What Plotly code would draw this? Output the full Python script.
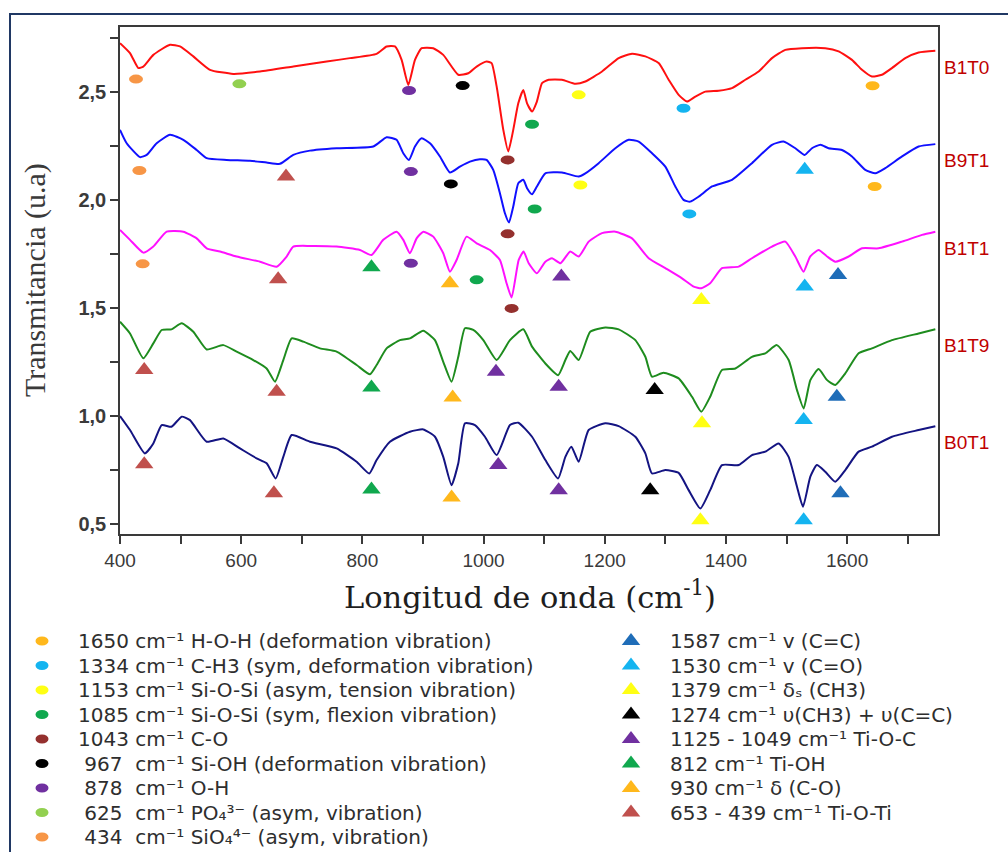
import plotly.graph_objects as go

# ---------------- spectra (wavenumber cm-1, transmittance u.a.) ----------------
b1t0_x = [400, 416.5, 430.3, 438.5, 455, 482.5, 499, 521, 548.5, 587, 631, 686, 741, 779.5, 823.5, 840, 853.8,
          864.8, 875.8, 886.8, 897.8, 917, 933.5, 958.3, 974.8, 988.6, 1005, 1013.3, 1021.6, 1032.6, 1040.8, 1049,
          1057.3, 1065.6, 1071.8, 1080, 1088, 1096.5, 1107.5, 1129.5, 1151.5, 1168, 1195.5, 1223, 1245, 1267, 1289,
          1305.5, 1322, 1335.8, 1349.5, 1366, 1388, 1410, 1432, 1454, 1476, 1498, 1525.5, 1564, 1586, 1608, 1624.5,
          1641, 1657.5, 1674, 1696, 1718, 1745.6]
b1t0_y = [2.725, 2.679, 2.610, 2.617, 2.671, 2.718, 2.710, 2.664, 2.602, 2.583, 2.594, 2.617, 2.640, 2.656, 2.676,
          2.710, 2.710, 2.648, 2.532, 2.648, 2.702, 2.702, 2.671, 2.579, 2.586, 2.617, 2.640, 2.633, 2.525, 2.324,
          2.224, 2.324, 2.447, 2.509, 2.447, 2.409, 2.455, 2.540, 2.556, 2.556, 2.537, 2.548, 2.594, 2.656, 2.676,
          2.664, 2.633, 2.556, 2.486, 2.455, 2.478, 2.501, 2.505, 2.517, 2.556, 2.594, 2.656, 2.694, 2.702, 2.702,
          2.687, 2.648, 2.602, 2.571, 2.579, 2.610, 2.656, 2.682, 2.690]

b9t1_x = [400, 411, 433, 444, 460.5, 482.5, 504.5, 526.5, 543, 576, 614.5, 642, 664, 686, 713.5, 757.5, 818, 840,
          856.5, 867.5, 876.9, 886.8, 897.8, 911.6, 928, 944.5, 961, 977.5, 994, 1005, 1016, 1027, 1035.3, 1042,
          1049, 1057.3, 1065.6, 1071.8, 1080, 1088, 1102, 1129.5, 1157, 1168, 1190, 1217.5, 1239.5, 1256, 1278,
          1300, 1316.5, 1330, 1341, 1355, 1377, 1410, 1443, 1476, 1495, 1514.5, 1530, 1542, 1556, 1569.5, 1591.5,
          1608, 1630, 1646.6, 1663, 1690.6, 1718, 1745.6]
b9t1_y = [2.324, 2.262, 2.198, 2.208, 2.262, 2.301, 2.278, 2.231, 2.193, 2.185, 2.181, 2.173, 2.167, 2.208, 2.228,
          2.239, 2.247, 2.290, 2.278, 2.216, 2.185, 2.247, 2.285, 2.262, 2.201, 2.127, 2.154, 2.177, 2.188, 2.185,
          2.139, 2.031, 1.938, 1.895, 1.969, 2.077, 2.093, 2.054, 2.026, 2.062, 2.123, 2.127, 2.108, 2.123, 2.170,
          2.239, 2.278, 2.270, 2.216, 2.154, 2.062, 2.000, 1.992, 2.015, 2.062, 2.093, 2.170, 2.255, 2.270, 2.239,
          2.208, 2.239, 2.255, 2.239, 2.231, 2.201, 2.139, 2.123, 2.147, 2.201, 2.247, 2.258]

b1t1_x = [400, 416.5, 438.5, 455, 477, 504.5, 526.5, 543, 565, 592.5, 631, 658.5, 675, 686, 713.5, 757.5, 796, 815,
          834.5, 856.5, 867.5, 878.5, 889.5, 900.5, 917, 933.5, 944.5, 955.5, 972, 988.6, 1010.6, 1027, 1038,
          1046.3, 1058, 1066, 1074.5, 1088, 1102, 1113, 1127, 1143, 1157, 1173.5, 1195.5, 1217.5, 1245, 1272.5,
          1300, 1327.5, 1346.8, 1359.4, 1374, 1393.5, 1421, 1443, 1476, 1498, 1514.5, 1528, 1539, 1553, 1567,
          1580.5, 1602.6, 1624.5, 1652, 1690.6, 1723.6, 1745.6]
b1t1_y = [1.861, 1.815, 1.756, 1.784, 1.853, 1.853, 1.822, 1.776, 1.761, 1.738, 1.714, 1.691, 1.738, 1.784, 1.787,
          1.784, 1.768, 1.745, 1.815, 1.853, 1.815, 1.753, 1.822, 1.853, 1.830, 1.753, 1.668, 1.722, 1.830, 1.799,
          1.768, 1.722, 1.614, 1.548, 1.722, 1.761, 1.707, 1.660, 1.714, 1.730, 1.707, 1.761, 1.738, 1.807, 1.846,
          1.853, 1.822, 1.730, 1.684, 1.637, 1.599, 1.591, 1.614, 1.684, 1.691, 1.730, 1.784, 1.807, 1.738, 1.668,
          1.738, 1.768, 1.738, 1.714, 1.738, 1.776, 1.776, 1.807, 1.838, 1.853]

b1t9_x = [400, 416.5, 438.5, 455, 468.8, 485, 501.8, 521, 543, 570.5, 592.5, 620, 642, 655.8, 669.5, 683.3, 702.5,
          730, 757.5, 790.5, 812.5, 823.5, 840, 862, 878.5, 900.5, 919.8, 933.5, 947.2, 958.3, 969.3, 983, 999.6,
          1021.6, 1043.6, 1065.6, 1080, 1102, 1123, 1135, 1143, 1157, 1176, 1201, 1223, 1250.5, 1267, 1278, 1297,
          1322, 1344, 1359.4, 1374, 1393.5, 1415.5, 1443, 1465, 1484, 1503.5, 1517.3, 1528.3, 1539.3, 1553, 1567,
          1580.5, 1597, 1619, 1641, 1674, 1718, 1745.6]
b1t9_y = [1.436, 1.382, 1.267, 1.336, 1.398, 1.401, 1.429, 1.390, 1.308, 1.328, 1.298, 1.259, 1.220, 1.159, 1.259,
          1.359, 1.344, 1.313, 1.298, 1.236, 1.193, 1.236, 1.313, 1.351, 1.359, 1.395, 1.351, 1.251, 1.159, 1.274,
          1.406, 1.398, 1.351, 1.259, 1.351, 1.401, 1.321, 1.243, 1.189, 1.259, 1.301, 1.259, 1.390, 1.410, 1.401,
          1.351, 1.274, 1.182, 1.200, 1.174, 1.089, 1.020, 1.089, 1.213, 1.220, 1.274, 1.290, 1.328, 1.259, 1.120,
          1.035, 1.166, 1.217, 1.166, 1.143, 1.197, 1.290, 1.313, 1.351, 1.382, 1.401]

b0t1_x = [400, 416.5, 441, 455, 468.8, 485, 501.8, 515.5, 543, 570.5, 598, 625.5, 642, 656.9, 669.5, 683.3, 713.5,
          757.5, 790.5, 811.4, 823.5, 845.5, 878.5, 900.5, 919.8, 933.5, 947.2, 958.3, 969.3, 985.8, 1002.3, 1021.6,
          1043.6, 1057.3, 1080, 1102, 1123, 1135, 1145, 1157, 1173.5, 1201, 1223, 1250.5, 1267, 1278, 1300, 1322,
          1338.5, 1357.8, 1374, 1393.5, 1421, 1443, 1465, 1487, 1503.5, 1517.3, 1527.2, 1539.3, 1550, 1564, 1580.5,
          1597, 1619, 1641, 1674, 1718, 1745.6]
b0t1_y = [1.000, 0.935, 0.827, 0.873, 0.958, 0.950, 0.997, 0.981, 0.881, 0.896, 0.850, 0.804, 0.781, 0.711, 0.811,
          0.912, 0.881, 0.850, 0.788, 0.734, 0.796, 0.881, 0.927, 0.938, 0.904, 0.811, 0.680, 0.781, 0.966, 0.958,
          0.904, 0.819, 0.958, 0.969, 0.904, 0.796, 0.711, 0.811, 0.858, 0.788, 0.935, 0.966, 0.953, 0.904, 0.827,
          0.734, 0.750, 0.737, 0.657, 0.572, 0.657, 0.773, 0.773, 0.819, 0.835, 0.873, 0.811, 0.673, 0.580, 0.719,
          0.773, 0.742, 0.696, 0.750, 0.835, 0.858, 0.904, 0.935, 0.953]

series_names = ["B1T0", "B9T1", "B1T1", "B1T9", "B0T1"]
series_x = [b1t0_x, b9t1_x, b1t1_x, b1t9_x, b0t1_x]
series_y = [b1t0_y, b9t1_y, b1t1_y, b1t9_y, b0t1_y]
series_colors = ["#FF1010", "#1010FF", "#FF10FF", "#1E8C1E", "#141482"]

# ---------------- band markers on the spectra ----------------
circle_keys = ["c1650", "c1334", "c1153", "c1085", "c1043", "c967", "c878", "c625", "c434"]
circle_colors = ["#FFB81C", "#14B4F0", "#FFFF14", "#10A84E", "#94302E", "#000000", "#7030A0", "#92D050", "#F79646"]
circle_x = {
    "c1650": [1642, 1645.5], "c1334": [1330, 1339.6], "c1153": [1157, 1159.8],
    "c1085": [1080, 1084.4, 988.6], "c1043": [1039.7, 1039.7, 1046.3], "c967": [965.5, 946],
    "c878": [877, 880, 880], "c625": [597], "c434": [426.4, 432, 437.4]}
circle_y = {
    "c1650": [2.528, 2.062], "c1334": [2.424, 1.935], "c1153": [2.486, 2.069],
    "c1085": [2.350, 1.958, 1.630], "c1043": [2.185, 1.843, 1.498], "c967": [2.529, 2.074],
    "c878": [2.506, 2.131, 1.707], "c625": [2.537], "c434": [2.559, 2.136, 1.704]}

tri_keys = ["t1587", "t1530", "t1379", "t1274", "t1125", "t812", "t930", "t653"]
tri_colors = ["#1F6DB8", "#14B4F0", "#FFFF14", "#000000", "#7030A0", "#10A84E", "#FFB81C", "#C0504D"]
tri_x = {
    "t1587": [1585, 1583, 1589], "t1530": [1530, 1530, 1528.3, 1528.3], "t1379": [1359.4, 1360.5, 1357.8],
    "t1274": [1282.4, 1275], "t1125": [1128.4, 1020.5, 1124, 1024.3, 1124], "t812": [815, 815, 815],
    "t930": [944.5, 949, 947.3], "t653": [674, 661, 440, 658.5, 440, 654]}
tri_y = {
    "t1587": [1.653, 1.089, 0.642], "t1530": [2.139, 1.599, 0.981, 0.518], "t1379": [1.537, 0.966, 0.518],
    "t1274": [1.120, 0.657], "t1125": [1.645, 1.205, 1.135, 0.773, 0.657], "t812": [1.688, 1.132, 0.660],
    "t930": [1.614, 1.086, 0.623], "t653": [2.108, 1.633, 1.213, 1.112, 0.777, 0.642]}

# ---------------- legend texts ----------------
NB = "\u00a0"
CM = "cm\u207b\u00b9"
circle_labels = [
    "1650 " + CM + " H-O-H (deformation vibration)",
    "1334 " + CM + " C-H3 (sym, deformation vibration)",
    "1153 " + CM + " Si-O-Si (asym, tension vibration)",
    "1085 " + CM + " Si-O-Si (sym, flexion vibration)",
    "1043 " + CM + " C-O",
    NB + "967" + NB + NB + CM + " Si-OH (deformation vibration)",
    NB + "878" + NB + NB + CM + " O-H",
    NB + "625" + NB + NB + CM + " PO\u2084\u00b3\u207b (asym, vibration)",
    NB + "434" + NB + NB + CM + " SiO\u2084\u2074\u207b (asym, vibration)",
]
tri_labels = [
    "1587 " + CM + " v (C=C)",
    "1530 " + CM + " v (C=O)",
    "1379 " + CM + " δ\u209b (CH3)",
    "1274 " + CM + " υ(CH3) + υ(C=C)",
    "1125 - 1049 " + CM + " Ti-O-C",
    "812 " + CM + " Ti-OH",
    "930 " + CM + " δ (C-O)",
    "653 - 439 " + CM + " Ti-O-Ti",
]

y_tick_vals = [0.5, 0.75, 1.0, 1.25, 1.5, 1.75, 2.0, 2.25, 2.5, 2.75]
y_tick_text = ["0,5", "", "1,0", "", "1,5", "", "2,0", "", "2,5", ""]
x_tick_vals = [400, 500, 600, 700, 800, 900, 1000, 1100, 1200, 1300, 1400, 1500, 1600, 1700]
x_tick_text = ["400", "", "600", "", "800", "", "1000", "", "1200", "", "1400", "", "1600", ""]

# ---------------- figure ----------------
W, H = 1008, 852
fig = go.Figure()
shapes = []
annotations = []

for name, xs, ys, col in zip(series_names, series_x, series_y, series_colors):
    fig.add_trace(go.Scatter(x=xs, y=ys, mode="lines", name=name,
                             line=dict(color=col, width=2, shape="spline", smoothing=0.5),
                             showlegend=False))
    annotations.append(dict(x=1750, y=ys[-1], xref="x", yref="y", text=name, showarrow=False,
                            xanchor="left", yanchor="top", xshift=4, yshift=-4,
                            font=dict(family="Liberation Sans, Arial, sans-serif", size=19, color="#C00000")))

# triangles on spectra
for k, col in zip(tri_keys, tri_colors):
    fig.add_trace(go.Scatter(x=tri_x[k], y=tri_y[k], mode="markers", showlegend=False,
                             marker=dict(symbol="triangle-up", size=16, color=col, line=dict(width=0))))

# ellipses on spectra
for k, col in zip(circle_keys, circle_colors):
    for xv, yv in zip(circle_x[k], circle_y[k]):
        shapes.append(dict(type="circle", xref="x", yref="y", xsizemode="pixel", ysizemode="pixel",
                           xanchor=xv, yanchor=yv, x0=-7, x1=7, y0=-4.5, y1=4.5,
                           fillcolor=col, line=dict(width=0), layer="above"))

# legend block (pixel-like hidden axes)
row0, drow = 641, 24.5
left_rows = [row0 + drow * i for i in range(len(circle_labels))]
right_rows = [row0 + drow * i for i in range(len(tri_labels))]
legend_font = dict(family="DejaVu Sans, Verdana, sans-serif", size=20, color="#2E2E2E")
for yv, col, lab in zip(left_rows, circle_colors, circle_labels):
    shapes.append(dict(type="circle", xref="x2", yref="y2", xsizemode="pixel", ysizemode="pixel",
                       xanchor=42, yanchor=yv, x0=-6.5, x1=6.5, y0=-4.5, y1=4.5,
                       fillcolor=col, line=dict(width=0)))
    annotations.append(dict(x=77, y=yv, xref="x2", yref="y2", text=lab, showarrow=False,
                            xanchor="left", yanchor="middle", font=legend_font, borderpad=0))
fig.add_trace(go.Scatter(x=[631] * len(right_rows), y=right_rows, xaxis="x2", yaxis="y2", mode="markers",
                         showlegend=False,
                         marker=dict(symbol="triangle-up", size=16, color=tri_colors, line=dict(width=0))))
for yv, lab in zip(right_rows, tri_labels):
    annotations.append(dict(x=669, y=yv, xref="x2", yref="y2", text=lab, showarrow=False,
                            xanchor="left", yanchor="middle", font=legend_font, borderpad=0))

# axis titles
annotations.append(dict(x=35 / W, y=1 - 280 / H, xref="paper", yref="paper", text="Transmitancia (u.a)",
                        textangle=-90, showarrow=False, xanchor="center", yanchor="middle",
                        font=dict(family="Liberation Serif, Times New Roman, serif", size=30, color="#3A3A3A")))
annotations.append(dict(x=530 / W, y=1 - 595 / H, xref="paper", yref="paper",
                        text="Longitud de onda (cm<sup>-1</sup>)", showarrow=False,
                        xanchor="center", yanchor="middle",
                        font=dict(family="DejaVu Serif, Cambria, serif", size=30.5, color="#1E1E1E")))

# outer frame
shapes.append(dict(type="rect", xref="paper", yref="paper", x0=10 / W, x1=1.02, y0=-0.02, y1=1 - 14 / H,
                   line=dict(color="#203864", width=2), fillcolor="rgba(0,0,0,0)", layer="below"))

axis_common = dict(showgrid=False, zeroline=False, showline=True, mirror=True, linecolor="#3A3A3A",
                   linewidth=1.5, ticks="outside", ticklen=8, tickwidth=1.5, tickcolor="#3A3A3A",
                   automargin=False)

fig.update_layout(
    width=W, height=H, margin=dict(l=0, r=0, t=0, b=0, pad=0, autoexpand=False),
    paper_bgcolor="white", plot_bgcolor="rgba(0,0,0,0)", showlegend=False,
    xaxis=dict(domain=[120 / W, 938 / W], range=[400, 1750], tickmode="array",
               tickvals=x_tick_vals, ticktext=x_tick_text,
               tickfont=dict(family="Liberation Sans Narrow, Arial Narrow, Liberation Sans, sans-serif",
                             size=19, color="#3A3A3A"),
               anchor="y", **axis_common),
    yaxis=dict(domain=[1 - 534 / H, 1 - 27 / H], range=[0.454, 2.80], tickmode="array",
               tickvals=y_tick_vals, ticktext=y_tick_text,
               tickfont=dict(family="Liberation Sans, Arial, sans-serif", size=20, color="#3A3A3A",
                             weight="bold"),
               anchor="x", **axis_common),
    xaxis2=dict(domain=[0, 1], range=[0, W], visible=False, anchor="y2", fixedrange=True, automargin=False),
    yaxis2=dict(domain=[0, 1], range=[H, 0], visible=False, anchor="x2", fixedrange=True, automargin=False),
    shapes=shapes, annotations=annotations,
)

fig.write_html("out.html")
